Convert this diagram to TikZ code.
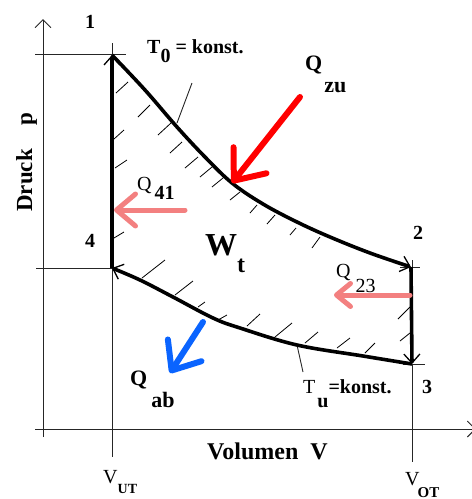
\documentclass[tikz,border=0pt]{standalone}
\usepackage{fontspec}
\setmainfont{Liberation Serif}
\usetikzlibrary{arrows.meta}
\definecolor{qred}{RGB}{255,0,0}
\definecolor{qpink}{RGB}{243,128,128}
\definecolor{qblue}{RGB}{10,100,255}
\begin{document}
\begin{tikzpicture}[x=1pt,y=-1pt,
  thinline/.style={line width=0.9pt, black!85},
  axtip/.style={-{Straight Barb[length=8pt,width=16pt]}},
  cycline/.style={line width=3.6pt, line join=round},
  cyctip/.style={-{Straight Barb[line width=1.3pt,length=9pt,width=16pt]}},
  hatchline/.style={line width=0.8pt},
  qarrow/.style={line width=6pt, line cap=round},
  lab/.style={inner sep=0pt, font=\fontsize{20}{24}\selectfont\bfseries},
]
\useasboundingbox (0,0) rectangle (472,499);
% named points
\coordinate (P1) at (112,55);
\coordinate (P2) at (411,267);
\coordinate (P3) at (412,364);
\coordinate (P4) at (112,268);
% axes
\coordinate (yb) at (43,437); \coordinate (yt) at (43,19);
\coordinate (xl) at (35,429); \coordinate (xr) at (476,429);
\draw[thinline, axtip] (yb) -- (yt);
\draw[thinline, axtip] (xl) -- (xr);
% helper lines
\draw[thinline] (35,54) -- (126,54);
\draw[thinline] (112,43) -- (112,55);
\draw[thinline] (36,268) -- (P4);
\draw[thinline] (P4) -- (112,457);
\draw[thinline] (400,267) -- (420,267);
\draw[thinline] (412,260) -- (412,267);
\draw[thinline] (403,364) -- (425,364);
\draw[thinline] (P3) -- (412,462);
% leader lines
\draw[thinline] (177,123) -- (192,83);
\draw[thinline] (297,345) -- (303,372);
% hatching
\foreach \a/\b/\c/\d in {116/93/128/82, 138/117/150/105, 158/135/171/123,
  170/153/182/142, 185/168/198/157, 200/177/212/167, 212/187/223/178,
  230/200/240/192, 250/213/257/205, 267/224/275/215, 290/235/296/228,
  312/248/320/237, 114/139/124/130, 115/168/127/160, 114/238/124/232,
  142/278/165/260, 175/295/193/281, 198/307/205/302, 218/320/227/315,
  247/326/260/314, 275/337/292/323, 305/343/318/332, 337/348/350/338,
  365/353/375/343, 398/319/410/307, 400/341/410/333}
  \draw[hatchline] (\a,\b) -- (\c,\d);
% cycle
\draw[cycline, cyctip] (P4) -- (P1);
\draw[cycline, cyctip] plot[smooth, tension=0.6] coordinates {(112,55) (145,90) (177,127) (205,157) (232,183) (263,204) (297,222) (330,237) (370,253) (411,267)};
\draw[cycline, cyctip] (P2) -- (P3);
\draw[cycline, cyctip] plot[smooth, tension=0.6] coordinates {(412,364) (363,356) (297,345) (240,328) (213,318) (173,297) (140,280) (112,268)};
% heat arrows
\coordinate (rz1) at (300,97); \coordinate (rz2) at (232,183);
\draw[qarrow, qred, -{Straight Barb[round,length=26pt,width=42pt]}] (rz1) -- (rz2);
\coordinate (p41a) at (185,210); \coordinate (p41b) at (114,210);
\draw[qarrow, qpink, line width=5pt, -{Straight Barb[round,length=19pt,width=32pt]}] (p41a) -- (p41b);
\coordinate (p23a) at (410,295); \coordinate (p23b) at (334,295);
\draw[qarrow, qpink, line width=5pt, -{Straight Barb[round,length=14pt,width=23pt]}] (p23a) -- (p23b);
\coordinate (bab1) at (203,322); \coordinate (bab2) at (170,373);
\draw[qarrow, qblue, -{Straight Barb[round,length=24pt,width=40pt]}] (bab1) -- (bab2);
% labels
\node[lab] (n1) at (90,22) {1};
\node[lab] (n2) at (418,233) {2};
\node[lab] (n3) at (427,387) {3};
\node[lab] (n4) at (90,241) {4};
\node[lab, anchor=base west] (t0) at (147,53) {T\raisebox{-9pt}{0} = konst.};
\node[lab, anchor=base west, font=\fontsize{22}{26}\selectfont\bfseries] (qzu) at (305,70) {Q\kern2pt\raisebox{-22pt}{zu}};
\node[lab, anchor=base west] (q41) at (137,190) {{\mdseries Q}\kern3pt\raisebox{-9pt}{41}};
\node[lab, anchor=base west, font=\fontsize{20}{24}\selectfont] (q23) at (336,277) {Q\kern5pt\raisebox{-15pt}{23}};
\node[lab, anchor=base west, font=\fontsize{32}{36}\selectfont\bfseries] (wt) at (205,255) {W\raisebox{-17pt}{\fontsize{24}{28}\selectfont t}};
\node[lab, anchor=base west] (tu) at (303,393) {{\mdseries T}\kern2pt\raisebox{-14pt}{u}=konst.};
\node[lab, anchor=base west, font=\fontsize{22}{26}\selectfont\bfseries] (qab) at (130,385) {Q\kern4pt\raisebox{-22pt}{ab}};
\node[lab, anchor=base west, font=\fontsize{20}{24}\selectfont] (vut) at (103,483) {V\raisebox{-10pt}{\fontsize{14}{16}\selectfont\bfseries UT}};
\node[lab, anchor=base west, font=\fontsize{20}{24}\selectfont] (vot) at (405,485) {V\kern-2pt\raisebox{-12pt}{\fontsize{15}{17}\selectfont\bfseries OT}};
\node[lab, anchor=base west, font=\fontsize{24}{28}\selectfont\bfseries] (vol) at (207,459) {Volumen~~V};
\node[lab, anchor=base west, rotate=90, font=\fontsize{23}{27}\selectfont\bfseries] (druck) at (32,212) {Druck\hspace{24pt}p};
\end{tikzpicture}
\end{document}
